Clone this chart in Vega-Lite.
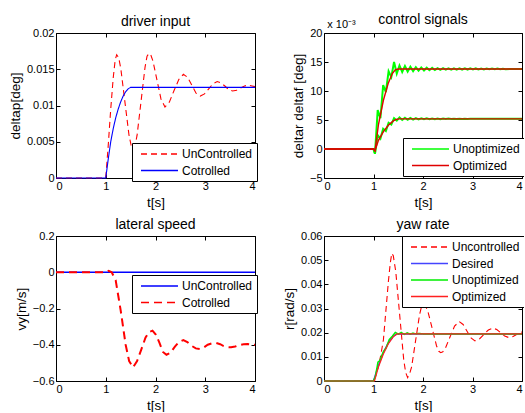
{
  "$schema": "https://vega.github.io/schema/vega-lite/v6.json",
  "background": "white",
  "padding": {"left": 7, "top": 12, "right": -3, "bottom": 0},
  "bounds": "flush",
  "columns": 2,
  "spacing": {"row": 58, "column": 69},
  "resolve": {
    "scale": {"color": "independent", "strokeDash": "independent"},
    "legend": {"color": "independent", "strokeDash": "independent"}
  },
  "datasets": {
    "d1": [
      {"t": 0, "v": 0, "s": "Cotrolled"}, {"t": 1, "v": 0, "s": "Cotrolled"}, {"t": 1.05, "v": 0.0026, "s": "Cotrolled"}, {"t": 1.1, "v": 0.005, "s": "Cotrolled"}, {"t": 1.15, "v": 0.0068, "s": "Cotrolled"}, {"t": 1.2, "v": 0.0083, "s": "Cotrolled"}, {"t": 1.25, "v": 0.0095, "s": "Cotrolled"}, {"t": 1.3, "v": 0.0105, "s": "Cotrolled"}, {"t": 1.35, "v": 0.0113, "s": "Cotrolled"}, {"t": 1.4, "v": 0.0119, "s": "Cotrolled"}, {"t": 1.45, "v": 0.0123, "s": "Cotrolled"}, {"t": 1.5, "v": 0.0125, "s": "Cotrolled"}, {"t": 4, "v": 0.0125, "s": "Cotrolled"},
      {"t": 0, "v": 0, "s": "UnControlled"}, {"t": 1, "v": 0, "s": "UnControlled"}, {"t": 1.05, "v": 0.0045, "s": "UnControlled"}, {"t": 1.1, "v": 0.0095, "s": "UnControlled"}, {"t": 1.15, "v": 0.0138, "s": "UnControlled"}, {"t": 1.19, "v": 0.0163, "s": "UnControlled"}, {"t": 1.22, "v": 0.017, "s": "UnControlled"}, {"t": 1.26, "v": 0.0166, "s": "UnControlled"}, {"t": 1.3025, "v": 0.0151, "s": "UnControlled"}, {"t": 1.385, "v": 0.0105, "s": "UnControlled"}, {"t": 1.4675, "v": 0.0059, "s": "UnControlled"}, {"t": 1.51, "v": 0.0045, "s": "UnControlled"}, {"t": 1.55, "v": 0.004, "s": "UnControlled"}, {"t": 1.59, "v": 0.0045, "s": "UnControlled"}, {"t": 1.63, "v": 0.0059, "s": "UnControlled"}, {"t": 1.71, "v": 0.0106, "s": "UnControlled"}, {"t": 1.79, "v": 0.0153, "s": "UnControlled"}, {"t": 1.83, "v": 0.0168, "s": "UnControlled"}, {"t": 1.87, "v": 0.0172, "s": "UnControlled"}, {"t": 1.91, "v": 0.0169, "s": "UnControlled"}, {"t": 1.95, "v": 0.0161, "s": "UnControlled"}, {"t": 2.03, "v": 0.0135, "s": "UnControlled"}, {"t": 2.11, "v": 0.0109, "s": "UnControlled"}, {"t": 2.19, "v": 0.0098, "s": "UnControlled"}, {"t": 2.28, "v": 0.0105, "s": "UnControlled"}, {"t": 2.375, "v": 0.0121, "s": "UnControlled"}, {"t": 2.47, "v": 0.0136, "s": "UnControlled"}, {"t": 2.56, "v": 0.0143, "s": "UnControlled"}, {"t": 2.645, "v": 0.0139, "s": "UnControlled"}, {"t": 2.73, "v": 0.0128, "s": "UnControlled"}, {"t": 2.815, "v": 0.0117, "s": "UnControlled"}, {"t": 2.9, "v": 0.0113, "s": "UnControlled"}, {"t": 2.985, "v": 0.0116, "s": "UnControlled"}, {"t": 3.07, "v": 0.0123, "s": "UnControlled"}, {"t": 3.155, "v": 0.013, "s": "UnControlled"}, {"t": 3.24, "v": 0.0133, "s": "UnControlled"}, {"t": 3.32, "v": 0.0131, "s": "UnControlled"}, {"t": 3.4, "v": 0.01265, "s": "UnControlled"}, {"t": 3.47, "v": 0.0122, "s": "UnControlled"}, {"t": 3.55, "v": 0.012, "s": "UnControlled"}, {"t": 3.63, "v": 0.0121, "s": "UnControlled"}, {"t": 3.71, "v": 0.0124, "s": "UnControlled"}, {"t": 3.79, "v": 0.0127, "s": "UnControlled"}, {"t": 3.87, "v": 0.0128, "s": "UnControlled"}, {"t": 3.94, "v": 0.0127, "s": "UnControlled"}, {"t": 4, "v": 0.0126, "s": "UnControlled"}
    ],
    "d2": [
      {"t": 0, "v": 0, "s": "Unoptimized", "g": "u"}, {"t": 1, "v": 0, "s": "Unoptimized", "g": "u"}, {"t": 1.03, "v": -0.8, "s": "Unoptimized", "g": "u"}, {"t": 1.085, "v": 6.7, "s": "Unoptimized", "g": "u"}, {"t": 1.14, "v": 5.3, "s": "Unoptimized", "g": "u"}, {"t": 1.195, "v": 11.0, "s": "Unoptimized", "g": "u"}, {"t": 1.25, "v": 9.8, "s": "Unoptimized", "g": "u"}, {"t": 1.305, "v": 13.4, "s": "Unoptimized", "g": "u"}, {"t": 1.36, "v": 12.4, "s": "Unoptimized", "g": "u"}, {"t": 1.415, "v": 15.0, "s": "Unoptimized", "g": "u"}, {"t": 1.47, "v": 13.0, "s": "Unoptimized", "g": "u"}, {"t": 1.525, "v": 14.4, "s": "Unoptimized", "g": "u"}, {"t": 1.58, "v": 13.28, "s": "Unoptimized", "g": "u"}, {"t": 1.635, "v": 14.29, "s": "Unoptimized", "g": "u"}, {"t": 1.69, "v": 13.35, "s": "Unoptimized", "g": "u"}, {"t": 1.745, "v": 14.18, "s": "Unoptimized", "g": "u"}, {"t": 1.8, "v": 13.43, "s": "Unoptimized", "g": "u"}, {"t": 1.855, "v": 14.1, "s": "Unoptimized", "g": "u"}, {"t": 1.91, "v": 13.5, "s": "Unoptimized", "g": "u"}, {"t": 1.965, "v": 14.06, "s": "Unoptimized", "g": "u"}, {"t": 2.02, "v": 13.54, "s": "Unoptimized", "g": "u"}, {"t": 2.075, "v": 14.02, "s": "Unoptimized", "g": "u"}, {"t": 2.13, "v": 13.59, "s": "Unoptimized", "g": "u"}, {"t": 2.185, "v": 13.99, "s": "Unoptimized", "g": "u"}, {"t": 2.24, "v": 13.63, "s": "Unoptimized", "g": "u"}, {"t": 2.295, "v": 13.95, "s": "Unoptimized", "g": "u"}, {"t": 2.35, "v": 13.65, "s": "Unoptimized", "g": "u"}, {"t": 2.405, "v": 13.93, "s": "Unoptimized", "g": "u"}, {"t": 2.46, "v": 13.67, "s": "Unoptimized", "g": "u"}, {"t": 2.515, "v": 13.92, "s": "Unoptimized", "g": "u"}, {"t": 2.57, "v": 13.68, "s": "Unoptimized", "g": "u"}, {"t": 2.625, "v": 13.91, "s": "Unoptimized", "g": "u"}, {"t": 2.68, "v": 13.69, "s": "Unoptimized", "g": "u"}, {"t": 2.735, "v": 13.9, "s": "Unoptimized", "g": "u"}, {"t": 2.79, "v": 13.7, "s": "Unoptimized", "g": "u"}, {"t": 2.845, "v": 13.9, "s": "Unoptimized", "g": "u"}, {"t": 2.9, "v": 13.7, "s": "Unoptimized", "g": "u"}, {"t": 2.955, "v": 13.9, "s": "Unoptimized", "g": "u"}, {"t": 3.01, "v": 13.71, "s": "Unoptimized", "g": "u"}, {"t": 3.065, "v": 13.89, "s": "Unoptimized", "g": "u"}, {"t": 3.12, "v": 13.72, "s": "Unoptimized", "g": "u"}, {"t": 3.175, "v": 13.88, "s": "Unoptimized", "g": "u"}, {"t": 3.23, "v": 13.73, "s": "Unoptimized", "g": "u"}, {"t": 3.285, "v": 13.87, "s": "Unoptimized", "g": "u"}, {"t": 3.34, "v": 13.74, "s": "Unoptimized", "g": "u"}, {"t": 3.395, "v": 13.86, "s": "Unoptimized", "g": "u"}, {"t": 3.45, "v": 13.74, "s": "Unoptimized", "g": "u"}, {"t": 3.505, "v": 13.86, "s": "Unoptimized", "g": "u"}, {"t": 3.56, "v": 13.75, "s": "Unoptimized", "g": "u"}, {"t": 3.615, "v": 13.85, "s": "Unoptimized", "g": "u"}, {"t": 3.67, "v": 13.76, "s": "Unoptimized", "g": "u"}, {"t": 3.75, "v": 13.8, "s": "Unoptimized", "g": "u"}, {"t": 4, "v": 13.8, "s": "Unoptimized", "g": "u"},
      {"t": 0, "v": 0, "s": "Unoptimized", "g": "l"}, {"t": 1, "v": 0, "s": "Unoptimized", "g": "l"}, {"t": 1.03, "v": -0.8, "s": "Unoptimized", "g": "l"}, {"t": 1.085, "v": 2.4, "s": "Unoptimized", "g": "l"}, {"t": 1.14, "v": 1.8, "s": "Unoptimized", "g": "l"}, {"t": 1.195, "v": 3.5, "s": "Unoptimized", "g": "l"}, {"t": 1.25, "v": 3.1, "s": "Unoptimized", "g": "l"}, {"t": 1.305, "v": 4.5, "s": "Unoptimized", "g": "l"}, {"t": 1.36, "v": 4.2, "s": "Unoptimized", "g": "l"}, {"t": 1.415, "v": 5.3, "s": "Unoptimized", "g": "l"}, {"t": 1.47, "v": 4.9, "s": "Unoptimized", "g": "l"}, {"t": 1.525, "v": 5.45, "s": "Unoptimized", "g": "l"}, {"t": 1.58, "v": 5.0, "s": "Unoptimized", "g": "l"}, {"t": 1.635, "v": 5.4, "s": "Unoptimized", "g": "l"}, {"t": 1.69, "v": 5.05, "s": "Unoptimized", "g": "l"}, {"t": 1.745, "v": 5.35, "s": "Unoptimized", "g": "l"}, {"t": 1.8, "v": 5.08, "s": "Unoptimized", "g": "l"}, {"t": 1.855, "v": 5.32, "s": "Unoptimized", "g": "l"}, {"t": 1.91, "v": 5.1, "s": "Unoptimized", "g": "l"}, {"t": 1.965, "v": 5.3, "s": "Unoptimized", "g": "l"}, {"t": 2.02, "v": 5.12, "s": "Unoptimized", "g": "l"}, {"t": 2.075, "v": 5.28, "s": "Unoptimized", "g": "l"}, {"t": 2.13, "v": 5.13, "s": "Unoptimized", "g": "l"}, {"t": 2.185, "v": 5.27, "s": "Unoptimized", "g": "l"}, {"t": 2.24, "v": 5.14, "s": "Unoptimized", "g": "l"}, {"t": 2.295, "v": 5.26, "s": "Unoptimized", "g": "l"}, {"t": 2.35, "v": 5.15, "s": "Unoptimized", "g": "l"}, {"t": 2.405, "v": 5.25, "s": "Unoptimized", "g": "l"}, {"t": 2.46, "v": 5.16, "s": "Unoptimized", "g": "l"}, {"t": 2.515, "v": 5.24, "s": "Unoptimized", "g": "l"}, {"t": 2.57, "v": 5.17, "s": "Unoptimized", "g": "l"}, {"t": 2.625, "v": 5.23, "s": "Unoptimized", "g": "l"}, {"t": 2.68, "v": 5.18, "s": "Unoptimized", "g": "l"}, {"t": 2.735, "v": 5.22, "s": "Unoptimized", "g": "l"}, {"t": 2.79, "v": 5.18, "s": "Unoptimized", "g": "l"}, {"t": 2.845, "v": 5.22, "s": "Unoptimized", "g": "l"}, {"t": 2.9, "v": 5.19, "s": "Unoptimized", "g": "l"}, {"t": 2.955, "v": 5.21, "s": "Unoptimized", "g": "l"}, {"t": 3.01, "v": 5.2, "s": "Unoptimized", "g": "l"}, {"t": 4, "v": 5.2, "s": "Unoptimized", "g": "l"},
      {"t": 0, "v": 0, "s": "Optimized", "g": "u"}, {"t": 1, "v": 0, "s": "Optimized", "g": "u"}, {"t": 1.03, "v": -0.3, "s": "Optimized", "g": "u"}, {"t": 1.1, "v": 4.2, "s": "Optimized", "g": "u"}, {"t": 1.2, "v": 8.4, "s": "Optimized", "g": "u"}, {"t": 1.3, "v": 11.4, "s": "Optimized", "g": "u"}, {"t": 1.38, "v": 13.0, "s": "Optimized", "g": "u"}, {"t": 1.44, "v": 13.65, "s": "Optimized", "g": "u"}, {"t": 1.5, "v": 13.8, "s": "Optimized", "g": "u"}, {"t": 4, "v": 13.8, "s": "Optimized", "g": "u"},
      {"t": 0, "v": 0, "s": "Optimized", "g": "l"}, {"t": 1, "v": 0, "s": "Optimized", "g": "l"}, {"t": 1.03, "v": -0.3, "s": "Optimized", "g": "l"}, {"t": 1.1, "v": 1.5, "s": "Optimized", "g": "l"}, {"t": 1.2, "v": 3.0, "s": "Optimized", "g": "l"}, {"t": 1.3, "v": 4.1, "s": "Optimized", "g": "l"}, {"t": 1.4, "v": 4.85, "s": "Optimized", "g": "l"}, {"t": 1.46, "v": 5.1, "s": "Optimized", "g": "l"}, {"t": 1.52, "v": 5.2, "s": "Optimized", "g": "l"}, {"t": 4, "v": 5.2, "s": "Optimized", "g": "l"}
    ],
    "d3": [
      {"t": 0, "v": 0, "s": "UnControlled"}, {"t": 4, "v": 0, "s": "UnControlled"},
      {"t": 0, "v": 0, "s": "Cotrolled"}, {"t": 1, "v": 0, "s": "Cotrolled"}, {"t": 1.06, "v": 0.008, "s": "Cotrolled"}, {"t": 1.12, "v": 0, "s": "Cotrolled"}, {"t": 1.2, "v": -0.045, "s": "Cotrolled"}, {"t": 1.3, "v": -0.21, "s": "Cotrolled"}, {"t": 1.4, "v": -0.4, "s": "Cotrolled"}, {"t": 1.47, "v": -0.49, "s": "Cotrolled"}, {"t": 1.55, "v": -0.525, "s": "Cotrolled"}, {"t": 1.63, "v": -0.49, "s": "Cotrolled"}, {"t": 1.71, "v": -0.43, "s": "Cotrolled"}, {"t": 1.8, "v": -0.36, "s": "Cotrolled"}, {"t": 1.87, "v": -0.33, "s": "Cotrolled"}, {"t": 1.94, "v": -0.322, "s": "Cotrolled"}, {"t": 2.01, "v": -0.345, "s": "Cotrolled"}, {"t": 2.08, "v": -0.39, "s": "Cotrolled"}, {"t": 2.15, "v": -0.44, "s": "Cotrolled"}, {"t": 2.22, "v": -0.455, "s": "Cotrolled"}, {"t": 2.3, "v": -0.445, "s": "Cotrolled"}, {"t": 2.39, "v": -0.41, "s": "Cotrolled"}, {"t": 2.47, "v": -0.385, "s": "Cotrolled"}, {"t": 2.56, "v": -0.374, "s": "Cotrolled"}, {"t": 2.64, "v": -0.385, "s": "Cotrolled"}, {"t": 2.72, "v": -0.405, "s": "Cotrolled"}, {"t": 2.81, "v": -0.42, "s": "Cotrolled"}, {"t": 2.89, "v": -0.423, "s": "Cotrolled"}, {"t": 2.97, "v": -0.415, "s": "Cotrolled"}, {"t": 3.05, "v": -0.4, "s": "Cotrolled"}, {"t": 3.14, "v": -0.392, "s": "Cotrolled"}, {"t": 3.22, "v": -0.39, "s": "Cotrolled"}, {"t": 3.3, "v": -0.397, "s": "Cotrolled"}, {"t": 3.37, "v": -0.407, "s": "Cotrolled"}, {"t": 3.45, "v": -0.413, "s": "Cotrolled"}, {"t": 3.52, "v": -0.414, "s": "Cotrolled"}, {"t": 3.6, "v": -0.41, "s": "Cotrolled"}, {"t": 3.68, "v": -0.402, "s": "Cotrolled"}, {"t": 3.77, "v": -0.397, "s": "Cotrolled"}, {"t": 3.85, "v": -0.396, "s": "Cotrolled"}, {"t": 3.93, "v": -0.399, "s": "Cotrolled"}, {"t": 4, "v": -0.4, "s": "Cotrolled"}
    ],
    "d4": [
      {"t": 0, "v": 0, "s": "Uncontrolled"}, {"t": 1, "v": 0, "s": "Uncontrolled"}, {"t": 1.05, "v": 0.0025, "s": "Uncontrolled"}, {"t": 1.1, "v": 0.006, "s": "Uncontrolled"}, {"t": 1.15, "v": 0.011, "s": "Uncontrolled"}, {"t": 1.2, "v": 0.017, "s": "Uncontrolled"}, {"t": 1.25, "v": 0.029, "s": "Uncontrolled"}, {"t": 1.3, "v": 0.041, "s": "Uncontrolled"}, {"t": 1.34, "v": 0.049, "s": "Uncontrolled"}, {"t": 1.37, "v": 0.0528, "s": "Uncontrolled"}, {"t": 1.4, "v": 0.0518, "s": "Uncontrolled"}, {"t": 1.45, "v": 0.0453, "s": "Uncontrolled"}, {"t": 1.53, "v": 0.0271, "s": "Uncontrolled"}, {"t": 1.61, "v": 0.0089, "s": "Uncontrolled"}, {"t": 1.65, "v": 0.0035, "s": "Uncontrolled"}, {"t": 1.69, "v": 0.0014, "s": "Uncontrolled"}, {"t": 1.73, "v": 0.003, "s": "Uncontrolled"}, {"t": 1.77, "v": 0.0058, "s": "Uncontrolled"}, {"t": 1.85, "v": 0.0166, "s": "Uncontrolled"}, {"t": 1.93, "v": 0.0274, "s": "Uncontrolled"}, {"t": 1.97, "v": 0.0308, "s": "Uncontrolled"}, {"t": 2.01, "v": 0.0318, "s": "Uncontrolled"}, {"t": 2.05, "v": 0.0311, "s": "Uncontrolled"}, {"t": 2.0975, "v": 0.0289, "s": "Uncontrolled"}, {"t": 2.185, "v": 0.0218, "s": "Uncontrolled"}, {"t": 2.2725, "v": 0.0146, "s": "Uncontrolled"}, {"t": 2.32, "v": 0.0123, "s": "Uncontrolled"}, {"t": 2.36, "v": 0.0117, "s": "Uncontrolled"}, {"t": 2.4, "v": 0.0121, "s": "Uncontrolled"}, {"t": 2.4525, "v": 0.0136, "s": "Uncontrolled"}, {"t": 2.545, "v": 0.0182, "s": "Uncontrolled"}, {"t": 2.6375, "v": 0.0227, "s": "Uncontrolled"}, {"t": 2.73, "v": 0.0246, "s": "Uncontrolled"}, {"t": 2.81, "v": 0.0234, "s": "Uncontrolled"}, {"t": 2.89, "v": 0.0206, "s": "Uncontrolled"}, {"t": 2.97, "v": 0.0178, "s": "Uncontrolled"}, {"t": 3.05, "v": 0.0166, "s": "Uncontrolled"}, {"t": 3.14, "v": 0.0174, "s": "Uncontrolled"}, {"t": 3.23, "v": 0.0193, "s": "Uncontrolled"}, {"t": 3.32, "v": 0.0211, "s": "Uncontrolled"}, {"t": 3.41, "v": 0.0219, "s": "Uncontrolled"}, {"t": 3.49, "v": 0.0213, "s": "Uncontrolled"}, {"t": 3.57, "v": 0.02, "s": "Uncontrolled"}, {"t": 3.65, "v": 0.0186, "s": "Uncontrolled"}, {"t": 3.73, "v": 0.018, "s": "Uncontrolled"}, {"t": 3.82, "v": 0.0184, "s": "Uncontrolled"}, {"t": 3.91, "v": 0.0195, "s": "Uncontrolled"}, {"t": 4, "v": 0.0203, "s": "Uncontrolled"},
      {"t": 0, "v": 0, "s": "Desired"}, {"t": 1, "v": 0, "s": "Desired"}, {"t": 1.1, "v": 0.0065, "s": "Desired"}, {"t": 1.2, "v": 0.0118, "s": "Desired"}, {"t": 1.3, "v": 0.0158, "s": "Desired"}, {"t": 1.4, "v": 0.0185, "s": "Desired"}, {"t": 1.47, "v": 0.0195, "s": "Desired"}, {"t": 4, "v": 0.0195, "s": "Desired"},
      {"t": 0, "v": 0, "s": "Unoptimized"}, {"t": 1, "v": 0, "s": "Unoptimized"}, {"t": 1.04, "v": 0.002, "s": "Unoptimized"}, {"t": 1.09, "v": 0.0078, "s": "Unoptimized"}, {"t": 1.13, "v": 0.0085, "s": "Unoptimized"}, {"t": 1.2, "v": 0.0122, "s": "Unoptimized"}, {"t": 1.25, "v": 0.0135, "s": "Unoptimized"}, {"t": 1.32, "v": 0.0172, "s": "Unoptimized"}, {"t": 1.38, "v": 0.0185, "s": "Unoptimized"}, {"t": 1.44, "v": 0.0201, "s": "Unoptimized"}, {"t": 1.5, "v": 0.0194, "s": "Unoptimized"}, {"t": 1.56, "v": 0.0201, "s": "Unoptimized"}, {"t": 1.62, "v": 0.0193, "s": "Unoptimized"}, {"t": 1.68, "v": 0.0199, "s": "Unoptimized"}, {"t": 1.74, "v": 0.0194, "s": "Unoptimized"}, {"t": 1.8, "v": 0.0198, "s": "Unoptimized"}, {"t": 1.86, "v": 0.0195, "s": "Unoptimized"}, {"t": 1.92, "v": 0.0197, "s": "Unoptimized"}, {"t": 2, "v": 0.0195, "s": "Unoptimized"}, {"t": 4, "v": 0.0195, "s": "Unoptimized"},
      {"t": 0, "v": 0, "s": "Optimized"}, {"t": 1.02, "v": 0, "s": "Optimized"}, {"t": 1.1, "v": 0.0058, "s": "Optimized"}, {"t": 1.2, "v": 0.0112, "s": "Optimized"}, {"t": 1.3, "v": 0.0154, "s": "Optimized"}, {"t": 1.4, "v": 0.0183, "s": "Optimized"}, {"t": 1.48, "v": 0.0195, "s": "Optimized"}, {"t": 4, "v": 0.0195, "s": "Optimized"}
    ]
  },
  "concat": [
    {
      "width": 199, "height": 145,
      "title": {"text": "driver input", "offset": -2},
      "data": {"name": "d1"},
      "resolve": {"axis": {"x": "independent", "y": "independent"}},
      "layer": [
        {
          "transform": [{"filter": "datum.s == 'UnControlled'"}],
          "mark": {"type": "line", "strokeWidth": 1.1},
          "encoding": {
            "x": {"field": "t", "type": "quantitative", "scale": {"domain": [0, 4], "nice": false}, "axis": {"orient": "bottom", "offset": -4, "values": [0, 1, 2, 3, 4], "title": "t[s]"}},
            "y": {"field": "v", "type": "quantitative", "scale": {"domain": [0, 0.02], "nice": false}, "axis": {"orient": "left", "offset": -4, "values": [0, 0.005, 0.01, 0.015, 0.02], "format": "~g", "title": "deltap[deg]"}},
            "color": {"field": "s", "type": "nominal", "scale": {"domain": ["UnControlled", "Cotrolled"], "range": ["#ff0000", "#0000ff"]}, "legend": {"legendX": 76, "legendY": 110}},
            "strokeDash": {"field": "s", "type": "nominal", "scale": {"domain": ["UnControlled", "Cotrolled"], "range": [[6, 4], [1, 0]]}, "legend": {"legendX": 76, "legendY": 110}}
          }
        },
        {
          "transform": [{"filter": "datum.s == 'Cotrolled'"}],
          "mark": {"type": "line", "strokeWidth": 1.1},
          "encoding": {
            "x": {"field": "t", "type": "quantitative", "scale": {"domain": [0, 4], "nice": false}, "axis": {"orient": "top", "offset": -4, "values": [0, 1, 2, 3, 4], "labels": false, "title": null}},
            "y": {"field": "v", "type": "quantitative", "scale": {"domain": [0, 0.02], "nice": false}, "axis": {"orient": "right", "offset": -4, "values": [0, 0.005, 0.01, 0.015, 0.02], "labels": false, "title": null}},
            "color": {"field": "s", "type": "nominal", "scale": {"domain": ["UnControlled", "Cotrolled"], "range": ["#ff0000", "#0000ff"]}, "legend": {"legendX": 76, "legendY": 110}},
            "strokeDash": {"field": "s", "type": "nominal", "scale": {"domain": ["UnControlled", "Cotrolled"], "range": [[6, 4], [1, 0]]}, "legend": {"legendX": 76, "legendY": 110}}
          }
        }
      ]
    },
    {
      "width": 198, "height": 145,
      "title": {"text": "control signals", "offset": -9},
      "data": {"name": "d2"},
      "resolve": {"axis": {"x": "independent", "y": "independent"}},
      "layer": [
        {
          "transform": [{"filter": "datum.s == 'Unoptimized'"}],
          "mark": {"type": "line", "strokeWidth": 2},
          "encoding": {
            "x": {"field": "t", "type": "quantitative", "scale": {"domain": [0, 4], "nice": false}, "axis": {"orient": "bottom", "offset": -4, "values": [0, 1, 2, 3, 4], "title": "t[s]"}},
            "y": {"field": "v", "type": "quantitative", "scale": {"domain": [-5, 20], "nice": false}, "axis": {"orient": "left", "offset": -4, "values": [-5, 0, 5, 10, 15, 20], "title": "deltar deltaf [deg]"}},
            "detail": {"field": "g"},
            "color": {"field": "s", "type": "nominal", "scale": {"domain": ["Unoptimized", "Optimized"], "range": ["#00ff00", "#e00000"]}, "legend": {"legendX": 79, "legendY": 105}}
          }
        },
        {
          "transform": [{"filter": "datum.s == 'Optimized'"}],
          "mark": {"type": "line", "strokeWidth": 1.4},
          "encoding": {
            "x": {"field": "t", "type": "quantitative", "scale": {"domain": [0, 4], "nice": false}, "axis": {"orient": "top", "offset": -4, "values": [0, 1, 2, 3, 4], "labels": false, "title": null}},
            "y": {"field": "v", "type": "quantitative", "scale": {"domain": [-5, 20], "nice": false}, "axis": {"orient": "right", "offset": -4, "values": [-5, 0, 5, 10, 15, 20], "labels": false, "title": "x 10⁻³", "titleAngle": 0, "titleX": -177, "titleY": -6, "titleAlign": "center", "titleBaseline": "alphabetic", "titleFontSize": 11}},
            "detail": {"field": "g"},
            "color": {"field": "s", "type": "nominal", "scale": {"domain": ["Unoptimized", "Optimized"], "range": ["#00ff00", "#e00000"]}, "legend": {"legendX": 79, "legendY": 105}}
          }
        }
      ]
    },
    {
      "width": 199, "height": 145,
      "title": {"text": "lateral speed", "offset": -2},
      "data": {"name": "d3"},
      "resolve": {"axis": {"x": "independent", "y": "independent"}},
      "layer": [
        {
          "transform": [{"filter": "datum.s == 'UnControlled'"}],
          "mark": {"type": "line", "strokeWidth": 1.5},
          "encoding": {
            "x": {"field": "t", "type": "quantitative", "scale": {"domain": [0, 4], "nice": false}, "axis": {"orient": "bottom", "offset": -4, "values": [0, 1, 2, 3, 4], "title": "t[s]"}},
            "y": {"field": "v", "type": "quantitative", "scale": {"domain": [-0.6, 0.2], "nice": false}, "axis": {"orient": "left", "offset": -4, "values": [-0.6, -0.4, -0.2, 0, 0.2], "format": "~g", "title": "vy[m/s]"}},
            "color": {"field": "s", "type": "nominal", "scale": {"domain": ["UnControlled", "Cotrolled"], "range": ["#0000ff", "#ff0000"]}, "legend": {"legendX": 76, "legendY": 39}},
            "strokeDash": {"field": "s", "type": "nominal", "scale": {"domain": ["UnControlled", "Cotrolled"], "range": [[1, 0], [8, 5]]}, "legend": {"legendX": 76, "legendY": 39}}
          }
        },
        {
          "transform": [{"filter": "datum.s == 'Cotrolled'"}],
          "mark": {"type": "line", "strokeWidth": 2},
          "encoding": {
            "x": {"field": "t", "type": "quantitative", "scale": {"domain": [0, 4], "nice": false}, "axis": {"orient": "top", "offset": -4, "values": [0, 1, 2, 3, 4], "labels": false, "title": null}},
            "y": {"field": "v", "type": "quantitative", "scale": {"domain": [-0.6, 0.2], "nice": false}, "axis": {"orient": "right", "offset": -4, "values": [-0.6, -0.4, -0.2, 0, 0.2], "labels": false, "title": null}},
            "color": {"field": "s", "type": "nominal", "scale": {"domain": ["UnControlled", "Cotrolled"], "range": ["#0000ff", "#ff0000"]}, "legend": {"legendX": 76, "legendY": 39}},
            "strokeDash": {"field": "s", "type": "nominal", "scale": {"domain": ["UnControlled", "Cotrolled"], "range": [[1, 0], [8, 5]]}, "legend": {"legendX": 76, "legendY": 39}}
          }
        }
      ]
    },
    {
      "width": 198, "height": 145,
      "title": {"text": "yaw rate", "offset": -2},
      "data": {"name": "d4"},
      "resolve": {"axis": {"x": "independent", "y": "independent"}},
      "layer": [
        {
          "transform": [{"filter": "datum.s == 'Uncontrolled'"}],
          "mark": {"type": "line", "strokeWidth": 1.1},
          "encoding": {
            "x": {"field": "t", "type": "quantitative", "scale": {"domain": [0, 4], "nice": false}, "axis": {"orient": "bottom", "offset": -4, "values": [0, 1, 2, 3, 4], "title": "t[s]"}},
            "y": {"field": "v", "type": "quantitative", "scale": {"domain": [0, 0.06], "nice": false}, "axis": {"orient": "left", "offset": -4, "values": [0, 0.01, 0.02, 0.03, 0.04, 0.05, 0.06], "format": "~g", "title": "r[rad/s]"}},
            "color": {"field": "s", "type": "nominal", "scale": {"domain": ["Uncontrolled", "Desired", "Unoptimized", "Optimized"], "range": ["#ff0000", "#4444ff", "#00ee00", "#ff2020"]}, "legend": {"legendX": 78, "legendY": 0}},
            "strokeDash": {"field": "s", "type": "nominal", "scale": {"domain": ["Uncontrolled", "Desired", "Unoptimized", "Optimized"], "range": [[6, 4], [1, 0], [1, 0], [1, 0]]}, "legend": {"legendX": 78, "legendY": 0}}
          }
        },
        {
          "transform": [{"filter": "datum.s == 'Desired'"}],
          "mark": {"type": "line", "strokeWidth": 1.5},
          "encoding": {
            "x": {"field": "t", "type": "quantitative", "scale": {"domain": [0, 4], "nice": false}, "axis": {"orient": "top", "offset": -4, "values": [0, 1, 2, 3, 4], "labels": false, "title": null}},
            "y": {"field": "v", "type": "quantitative", "scale": {"domain": [0, 0.06], "nice": false}, "axis": {"orient": "right", "offset": -4, "values": [0, 0.01, 0.02, 0.03, 0.04, 0.05, 0.06], "labels": false, "title": null}},
            "color": {"field": "s", "type": "nominal", "scale": {"domain": ["Uncontrolled", "Desired", "Unoptimized", "Optimized"], "range": ["#ff0000", "#4444ff", "#00ee00", "#ff2020"]}, "legend": {"legendX": 78, "legendY": 0}},
            "strokeDash": {"field": "s", "type": "nominal", "scale": {"domain": ["Uncontrolled", "Desired", "Unoptimized", "Optimized"], "range": [[6, 4], [1, 0], [1, 0], [1, 0]]}, "legend": {"legendX": 78, "legendY": 0}}
          }
        },
        {
          "transform": [{"filter": "datum.s == 'Unoptimized'"}],
          "mark": {"type": "line", "strokeWidth": 1.5},
          "encoding": {
            "x": {"field": "t", "type": "quantitative", "scale": {"domain": [0, 4], "nice": false}, "axis": null},
            "y": {"field": "v", "type": "quantitative", "scale": {"domain": [0, 0.06], "nice": false}, "axis": null},
            "color": {"field": "s", "type": "nominal", "scale": {"domain": ["Uncontrolled", "Desired", "Unoptimized", "Optimized"], "range": ["#ff0000", "#4444ff", "#00ee00", "#ff2020"]}, "legend": {"legendX": 78, "legendY": 0}},
            "strokeDash": {"field": "s", "type": "nominal", "scale": {"domain": ["Uncontrolled", "Desired", "Unoptimized", "Optimized"], "range": [[6, 4], [1, 0], [1, 0], [1, 0]]}, "legend": {"legendX": 78, "legendY": 0}}
          }
        },
        {
          "transform": [{"filter": "datum.s == 'Optimized'"}],
          "mark": {"type": "line", "strokeWidth": 1.2},
          "encoding": {
            "x": {"field": "t", "type": "quantitative", "scale": {"domain": [0, 4], "nice": false}, "axis": null},
            "y": {"field": "v", "type": "quantitative", "scale": {"domain": [0, 0.06], "nice": false}, "axis": null},
            "color": {"field": "s", "type": "nominal", "scale": {"domain": ["Uncontrolled", "Desired", "Unoptimized", "Optimized"], "range": ["#ff0000", "#4444ff", "#00ee00", "#ff2020"]}, "legend": {"legendX": 78, "legendY": 0}},
            "strokeDash": {"field": "s", "type": "nominal", "scale": {"domain": ["Uncontrolled", "Desired", "Unoptimized", "Optimized"], "range": [[6, 4], [1, 0], [1, 0], [1, 0]]}, "legend": {"legendX": 78, "legendY": 0}}
          }
        }
      ]
    }
  ],
  "config": {
    "font": "Liberation Sans",
    "view": {"stroke": "black", "strokeWidth": 1},
    "title": {"fontSize": 14, "fontWeight": "normal", "color": "black"},
    "axis": {"domain": false, "grid": false, "tickSize": 4, "tickColor": "black", "tickWidth": 1, "labelFontSize": 11, "labelColor": "black", "labelPadding": 2, "titleFontSize": 13.5, "titleFontWeight": "normal", "titleColor": "black", "titlePadding": 4},
    "legend": {"orient": "none", "title": null, "symbolType": "M-0.333,0H5.833", "symbolSize": 144, "symbolStrokeWidth": 1.6, "padding": 4, "rowPadding": 3.5, "labelOffset": 32, "labelFontSize": 12, "labelColor": "black", "strokeColor": "black", "fillColor": "white", "labelLimit": 300}
  }
}
